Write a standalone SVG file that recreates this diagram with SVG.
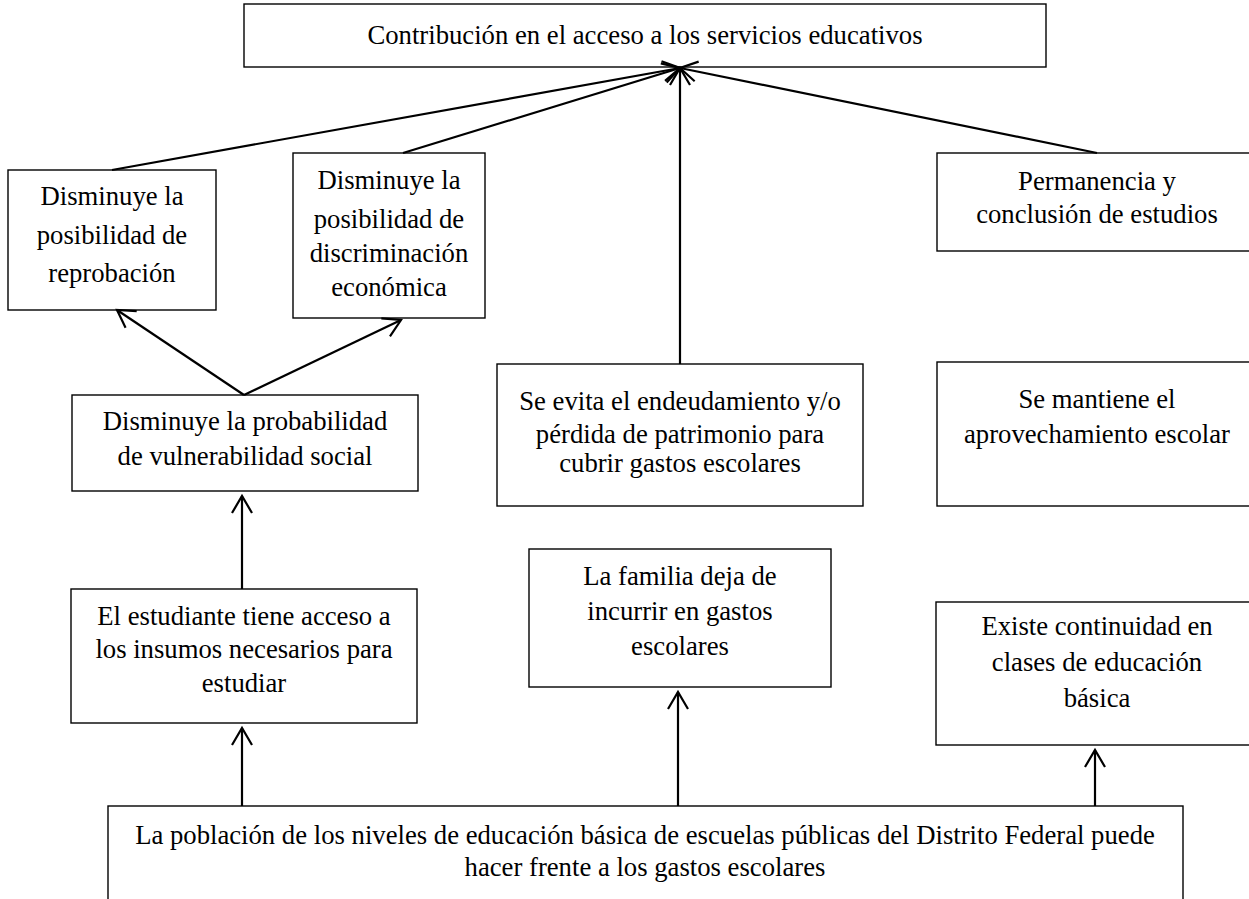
<svg xmlns="http://www.w3.org/2000/svg" width="1249" height="899" viewBox="0 0 1249 899">
<style>
.box{fill:#fff;stroke:#000;stroke-width:1.4}
.t{font-family:"Liberation Serif","Times New Roman",serif;font-size:26.7px;fill:#000;text-anchor:middle}
.c{fill:none;stroke:#000;stroke-width:2.2;marker-end:url(#arr)}
</style>
<defs>
<marker id="arr" markerUnits="userSpaceOnUse" viewBox="-20 -12 23 24" refX="0" refY="0" markerWidth="23" markerHeight="24" orient="auto" overflow="visible">
<path d="M-17,-10 L0,0 L-17,10" fill="none" stroke="#000" stroke-width="2.2"/>
</marker>
</defs>
<rect width="1249" height="899" fill="#fff"/>
<g id="n-top"><rect class="box" x="244" y="4" width="802" height="63"/>
<text class="t" x="645" y="44">Contribución en el acceso a los servicios educativos</text></g>
<g id="n-reprobacion"><rect class="box" x="8" y="170" width="208" height="140"/>
<text class="t" x="112" y="205">Disminuye la</text><text class="t" x="112" y="244">posibilidad de</text><text class="t" x="112" y="282">reprobación</text></g>
<g id="n-discriminacion"><rect class="box" x="293" y="153" width="192" height="165"/>
<text class="t" x="389" y="189">Disminuye la</text><text class="t" x="389" y="228">posibilidad de</text><text class="t" x="389" y="262">discriminación</text><text class="t" x="389" y="296">económica</text></g>
<g id="n-permanencia"><rect class="box" x="937" y="153" width="330" height="98"/>
<text class="t" x="1097" y="190">Permanencia y</text><text class="t" x="1097" y="223">conclusión de estudios</text></g>
<g id="n-vulnerabilidad"><rect class="box" x="72" y="395" width="346" height="96"/>
<text class="t" x="245" y="430">Disminuye la probabilidad</text><text class="t" x="245" y="465">de vulnerabilidad social</text></g>
<g id="n-endeudamiento"><rect class="box" x="497" y="364" width="366" height="142"/>
<text class="t" x="680" y="410">Se evita el endeudamiento y/o</text><text class="t" x="680" y="443">pérdida de patrimonio para</text><text class="t" x="680" y="472">cubrir gastos escolares</text></g>
<g id="n-mantiene"><rect class="box" x="937" y="362" width="330" height="144"/>
<text class="t" x="1097" y="408">Se mantiene el</text><text class="t" x="1097" y="443">aprovechamiento escolar</text></g>
<g id="n-estudiante"><rect class="box" x="71" y="589" width="346" height="134"/>
<text class="t" x="244" y="625">El estudiante tiene acceso a</text><text class="t" x="244" y="658">los insumos necesarios para</text><text class="t" x="244" y="692">estudiar</text></g>
<g id="n-familia"><rect class="box" x="529" y="549" width="302" height="138"/>
<text class="t" x="680" y="585">La familia deja de</text><text class="t" x="680" y="620">incurrir en gastos</text><text class="t" x="680" y="655">escolares</text></g>
<g id="n-continuidad"><rect class="box" x="936" y="602" width="330" height="143"/>
<text class="t" x="1097" y="635">Existe continuidad en</text><text class="t" x="1097" y="671">clases de educación</text><text class="t" x="1097" y="707">básica</text></g>
<g id="n-poblacion"><rect class="box" x="108" y="806" width="1075" height="110"/>
<text class="t" x="645" y="844">La población de los niveles de educación básica de escuelas públicas del Distrito Federal puede</text><text class="t" x="645" y="876">hacer frente a los gastos escolares</text></g>
<g id="connectors">
<line class="c" x1="112" y1="170" x2="680" y2="68"/>
<line class="c" x1="403" y1="153" x2="680" y2="68"/>
<line class="c" x1="680" y1="364" x2="680" y2="68"/>
<line class="c" x1="1097" y1="153" x2="680" y2="68"/>
<line class="c" x1="244" y1="395" x2="117" y2="310"/>
<line class="c" x1="244" y1="395" x2="401" y2="320"/>
<line class="c" x1="242" y1="589" x2="242" y2="496"/>
<line class="c" x1="242" y1="806" x2="242" y2="728"/>
<line class="c" x1="678" y1="806" x2="678" y2="692"/>
<line class="c" x1="1095" y1="806" x2="1095" y2="750"/>
</g>
</svg>
